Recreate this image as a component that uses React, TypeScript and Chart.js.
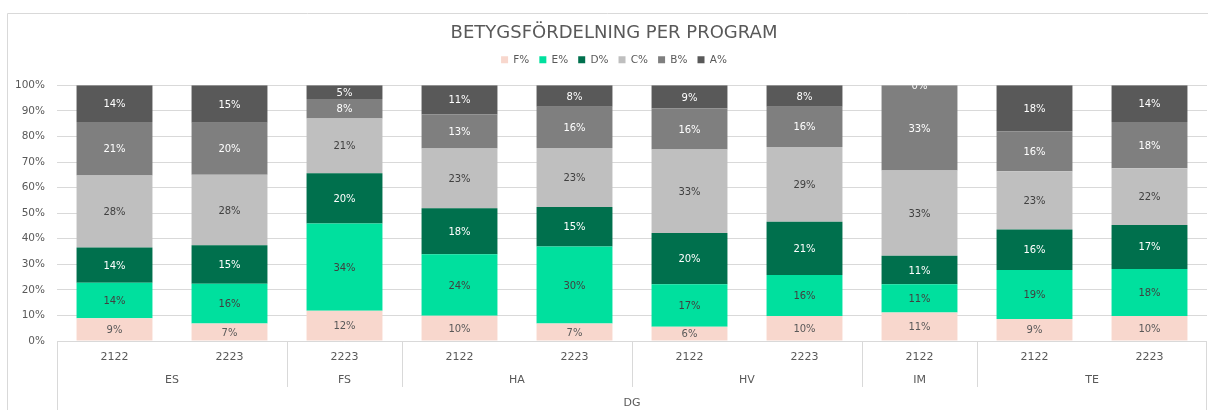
import React, { useEffect, useRef } from 'react';
import { Chart, registerables } from 'chart.js';

Chart.register(...registerables);

const programs = ['ES', 'ES', 'FS', 'HA', 'HA', 'HV', 'HV', 'IM', 'TE', 'TE'];
const years = ['2122', '2223', '2223', '2122', '2223', '2122', '2223', '2122', '2122', '2223'];
const outerLabel = 'DG';
const seriesNames = ['F%', 'E%', 'D%', 'C%', 'B%', 'A%'];
const fValues = [8.9, 6.8, 11.8, 9.9, 6.8, 5.6, 9.8, 11.11, 8.6, 9.8];
const eValues = [13.9, 15.6, 34.2, 24.0, 30.2, 16.6, 16.0, 11.11, 19.2, 18.4];
const dValues = [13.8, 15.0, 19.6, 18.0, 15.4, 20.0, 20.8, 11.11, 15.8, 17.2];
const cValues = [28.1, 27.6, 21.4, 23.4, 23.1, 32.7, 29.3, 33.33, 22.8, 22.2];
const bValues = [20.9, 20.4, 7.6, 13.3, 16.1, 16.0, 15.7, 33.33, 15.6, 18.0];
const aValues = [14.4, 14.6, 5.4, 11.4, 8.4, 9.1, 8.4, 0, 18.0, 14.4];
const yTicks = [0, 10, 20, 30, 40, 50, 60, 70, 80, 90, 100];

const seriesValues = [fValues, eValues, dValues, cValues, bValues, aValues];
const seriesColors = ['#F8D7CD', '#00E09E', '#00704D', '#BFBFBF', '#7F7F7F', '#595959'];
const labelColors = ['#595959', '#404040', '#FFFFFF', '#404040', '#FFFFFF', '#FFFFFF'];

const FONT = "'DejaVu Sans', sans-serif";
const TEXT = '#595959';
const LINE = '#D9D9D9';
const HEADER_SHIFT = 5.5;

const framePlugin = {
  id: 'frame',
  afterLayout(chart: any) {
    const boxes = [chart.titleBlock, chart.legend];
    boxes.forEach((b: any) => {
      if (b) {
        b.left += HEADER_SHIFT;
        b.right += HEADER_SHIFT;
      }
    });
  },
  beforeDraw(chart: any) {
    const { ctx, width, height } = chart;
    ctx.save();
    ctx.strokeStyle = LINE;
    ctx.lineWidth = 1;
    ctx.beginPath();
    ctx.moveTo(7.5, height);
    ctx.lineTo(7.5, 13.5);
    ctx.lineTo(width, 13.5);
    ctx.stroke();
    ctx.restore();
  },
};

const segLabelPlugin = {
  id: 'segLabels',
  afterDatasetsDraw(chart: any) {
    const { ctx, chartArea } = chart;
    ctx.save();
    ctx.beginPath();
    ctx.rect(chartArea.left, chartArea.top, chartArea.right - chartArea.left, chartArea.bottom - chartArea.top);
    ctx.clip();
    ctx.font = `10px ${FONT}`;
    ctx.textAlign = 'center';
    ctx.textBaseline = 'middle';
    chart.data.datasets.forEach((ds: any, di: number) => {
      const meta = chart.getDatasetMeta(di);
      meta.data.forEach((bar: any, i: number) => {
        const v = ds.data[i];
        const { x, y, base } = bar.getProps(['x', 'y', 'base'], true);
        ctx.fillStyle = labelColors[di];
        ctx.fillText(Math.round(v) + '%', x, (y + base) / 2 + 1);
      });
    });
    ctx.restore();
  },
};

const xLabelPlugin = {
  id: 'xLabels',
  afterDraw(chart: any) {
    const { ctx, chartArea, height } = chart;
    const xs = chart.scales.x;
    const n = programs.length;
    const w = xs.getPixelForValue(1) - xs.getPixelForValue(0);
    const left = xs.getPixelForValue(0) - w / 2;
    const right = xs.getPixelForValue(n - 1) + w / 2;
    const bottom = Math.round(chartArea.bottom);
    ctx.save();
    ctx.strokeStyle = LINE;
    ctx.lineWidth = 1;
    ctx.beginPath();
    ctx.moveTo(left, bottom + 0.5);
    ctx.lineTo(right, bottom + 0.5);
    ctx.moveTo(Math.round(left) + 0.5, bottom);
    ctx.lineTo(Math.round(left) + 0.5, height);
    ctx.moveTo(Math.round(right) - 0.5, bottom);
    ctx.lineTo(Math.round(right) - 0.5, height);
    ctx.stroke();

    ctx.fillStyle = TEXT;
    ctx.font = `11px ${FONT}`;
    ctx.textAlign = 'center';
    ctx.textBaseline = 'middle';
    for (let i = 0; i < n; i++) {
      ctx.fillText(years[i], xs.getPixelForValue(i), bottom + 16);
    }
    let start = 0;
    for (let i = 1; i <= n; i++) {
      if (i === n || programs[i] !== programs[start]) {
        const gx0 = left + start * w;
        const gx1 = left + i * w;
        ctx.fillText(programs[start], (gx0 + gx1) / 2, bottom + 39);
        if (i < n) {
          const bx = Math.round(gx1) + 0.5;
          ctx.beginPath();
          ctx.moveTo(bx, bottom);
          ctx.lineTo(bx, bottom + 46);
          ctx.stroke();
        }
        start = i;
      }
    }
    ctx.fillText(outerLabel, (left + right) / 2, bottom + 62);
    ctx.restore();
  },
};

export default function App() {
  const ref = useRef<HTMLCanvasElement>(null);
  useEffect(() => {
    if (!ref.current) return;
    Chart.defaults.font.family = FONT;
    const chart = new Chart(ref.current, {
      type: 'bar',
      data: {
        labels: programs.map((p, i) => [years[i], p]),
        datasets: seriesNames.map((name, i) => ({
          label: name,
          data: seriesValues[i],
          backgroundColor: seriesColors[i],
          borderWidth: 0,
          categoryPercentage: 1,
          barPercentage: 0.66,
        })),
      },
      options: {
        responsive: false,
        animation: false,
        layout: { padding: { left: 10, right: 1, top: 13, bottom: 69 } },
        plugins: {
          title: {
            display: true,
            text: 'BETYGSFÖRDELNING PER PROGRAM',
            color: TEXT,
            font: { size: 18, weight: 'normal', family: FONT },
            padding: { top: 10, bottom: 0 },
          },
          subtitle: {
            display: true,
            text: '',
            weight: 500,
            font: { size: 1 },
            padding: { top: 4, bottom: 5 },
          } as any,
          legend: {
            display: true,
            position: 'top',
            labels: {
              boxWidth: 7,
              boxHeight: 7,
              padding: 10,
              color: TEXT,
              font: { size: 10.5, family: FONT },
            },
          },
          tooltip: { enabled: false },
        },
        scales: {
          x: {
            stacked: true,
            display: false,
          },
          y: {
            stacked: true,
            min: 0,
            max: 100,
            afterFit(scale: any) {
              scale.width = 47;
            },
            afterBuildTicks(scale: any) {
              scale.ticks = yTicks.map((v) => ({ value: v }));
            },
            ticks: {
              color: TEXT,
              padding: 12,
              font: { size: 10.5, family: FONT },
              callback: (v: any) => v + '%',
            },
            grid: { color: LINE, drawTicks: false },
            border: { display: false },
          },
        },
      },
      plugins: [framePlugin, segLabelPlugin, xLabelPlugin],
    });
    return () => chart.destroy();
  }, []);
  return (
    <div style={{ position: 'fixed', left: 0, top: 0, width: 1208, height: 410, background: '#fff' }}>
      <canvas ref={ref} width={1208} height={410} style={{ display: 'block' }} />
    </div>
  );
}
